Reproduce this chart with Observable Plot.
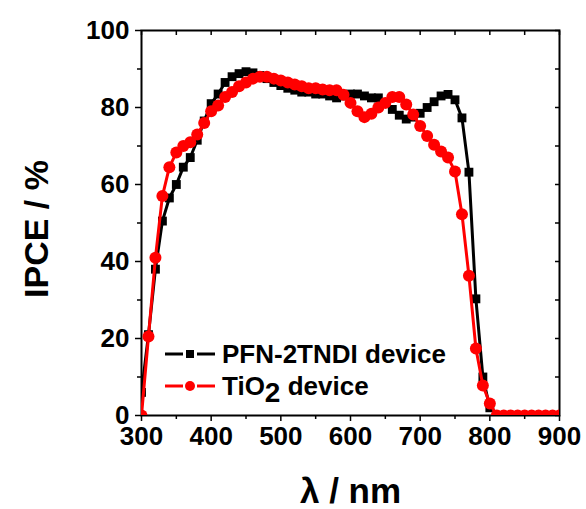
<!DOCTYPE html>
<html><head><meta charset="utf-8">
<script src="https://cdn.jsdelivr.net/npm/d3@7"></script>
<script src="https://cdn.jsdelivr.net/npm/@observablehq/plot@0.6"></script>
<style>body{margin:0;background:#fff}</style>
</head><body><div id="chart"></div>
<script>
const wavelength = [300,310,320,330,340,350,360,370,380,390,400,410,420,430,440,450,460,470,480,490,500,510,520,530,540,550,560,570,580,590,600,610,620,630,640,650,660,670,680,690,700,710,720,730,740,750,760,770,780,790,800,810,820,830,840,850,860,870,880,890,900];
const pfn = [6,21,38,50.5,56.5,60,64.5,67,71.5,76.5,81,83.5,86.5,88,88.8,89.3,89,88.3,87.5,86.5,85.7,85,84.5,84,84,83.5,83.5,83,82.5,83,83.5,83.5,83,82.5,82.5,81,79.5,78,77,77.5,78.5,80,81.5,83,83.4,82,77.3,63.2,30.3,10,2,0,0,0,0,0,0,0,0,0,0];
const tio2 = [0,20.5,41,57,64.5,68.3,70,71,73,76,79,80.5,82.7,84,85.5,86.5,87.5,88,88,87.5,87,86.5,86,85.5,85,85,84.7,84.5,84.5,83.3,81.2,79,77.5,78.4,80,81.2,82.7,82.7,80.8,78.2,75.2,72.6,70.3,68.6,67,63.4,52.3,36.3,17.4,7.8,3.1,0,0,0,0,0,0,0,0,0,0];
const xTicks = [300,400,500,600,700,800,900];
const xMinor = [350,450,550,650,750,850];
const yTicks = [0,20,40,60,80,100];
const yMinor = [10,30,50,70,90];
const xTitle = "λ / nm";
const yTitle = "IPCE / %";
const names = ["PFN-2TNDI device", "TiO", "2", " device"];

const pfnData = wavelength.map((x, i) => ({x, y: pfn[i]}));
const tioData = wavelength.map((x, i) => ({x, y: tio2[i]}));
const font = "'Liberation Sans', Arial, Helvetica, sans-serif";

const legend = (index, scales, values, dims) => {
  const g = d3.create("svg:g").attr("font-family", font).attr("font-weight", "bold").attr("font-size", 26).attr("text-anchor", "start");
  const x0 = dims.marginLeft + 24;
  const bottom = dims.height - dims.marginBottom;
  const rows = [
    {y: bottom - 61, color: "black", sym: "square"},
    {y: bottom - 29, color: "red", sym: "circle"}
  ];
  rows.forEach((r) => {
    g.append("line").attr("x1", x0).attr("x2", x0 + 18).attr("y1", r.y).attr("y2", r.y).attr("stroke", r.color).attr("stroke-width", 3);
    g.append("line").attr("x1", x0 + 32).attr("x2", x0 + 50).attr("y1", r.y).attr("y2", r.y).attr("stroke", r.color).attr("stroke-width", 3);
    if (r.sym === "square") g.append("rect").attr("x", x0 + 21).attr("y", r.y - 4).attr("width", 8).attr("height", 8).attr("fill", r.color);
    else g.append("circle").attr("cx", x0 + 25).attr("cy", r.y).attr("r", 5).attr("fill", r.color);
  });
  g.append("text").attr("x", x0 + 57).attr("y", rows[0].y + 9).text(names[0]);
  const t = g.append("text").attr("x", x0 + 57).attr("y", rows[1].y + 9);
  t.append("tspan").text(names[1]);
  t.append("tspan").attr("dy", 7).attr("font-size", 28).text(names[2]);
  t.append("tspan").attr("dy", -7).text(names[3]);
  return g.node();
};

const chart = Plot.plot({
  width: 586, height: 509,
  marginLeft: 141, marginRight: 27, marginTop: 30, marginBottom: 94,
  style: {fontFamily: font, background: "white", color: "black", overflow: "visible"},
  x: {domain: [300, 900]},
  y: {domain: [0, 100]},
  marks: [
    Plot.axisX({ticks: xTicks, tickSize: 6, tickPadding: 5, fontSize: 26, fontWeight: "bold", label: null, tickFormat: d => String(d), strokeWidth: 1.5}),
    Plot.axisX({ticks: xMinor, tickSize: 4, text: null, label: null, strokeWidth: 1.5}),
    Plot.axisX({anchor: "top", ticks: xTicks.concat(xMinor), tickSize: -4, text: null, label: null, strokeWidth: 1.5}),
    Plot.axisY({ticks: yTicks, tickSize: 6, tickPadding: 6, fontSize: 26, fontWeight: "bold", label: null, tickFormat: d => String(d), strokeWidth: 1.5}),
    Plot.axisY({ticks: yMinor, tickSize: 4, text: null, label: null, strokeWidth: 1.5}),
    Plot.axisY({anchor: "right", ticks: yTicks.concat(yMinor), tickSize: -5, text: null, label: null, strokeWidth: 1.5}),
    Plot.frame({stroke: "black", strokeWidth: 2}),
    Plot.line(pfnData, {x: "x", y: "y", stroke: "black", strokeWidth: 3, clip: "frame"}),
    Plot.dot(pfnData, {x: "x", y: "y", symbol: "square", r: 5, fill: "black", clip: "frame"}),
    Plot.line(tioData, {x: "x", y: "y", stroke: "red", strokeWidth: 3, clip: "frame"}),
    Plot.dot(tioData, {x: "x", y: "y", r: 6, fill: "red", clip: "frame"}),
    Plot.text([yTitle], {text: d => d, frameAnchor: "left", textAnchor: "middle", lineAnchor: "middle", rotate: -90, dx: -104, dy: 6, fontSize: 34, fontWeight: "bold"}),
    Plot.text([xTitle], {text: d => d, frameAnchor: "bottom", textAnchor: "middle", lineAnchor: "middle", dy: 76, fontSize: 35, fontWeight: "bold"}),
    legend
  ]
});
document.getElementById("chart").append(chart);
</script>
</body></html>
